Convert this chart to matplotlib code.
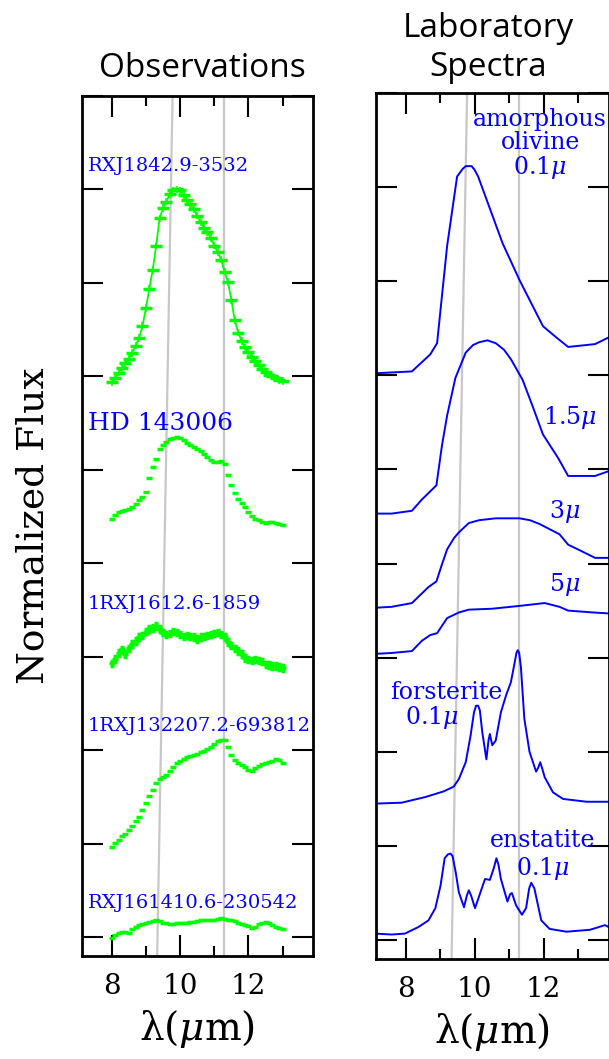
import numpy as np
import matplotlib
matplotlib.use('Agg')
import matplotlib.pyplot as plt
from matplotlib.ticker import MultipleLocator

plt.rcParams['mathtext.fontset'] = 'dejavuserif'

# ---- observations (normalized, offset) ----
wave_obs = np.round(np.arange(8.0, 13.05, 0.1), 1)

flux_rxj1842 = [5.94, 5.98, 6.04, 6.09, 6.14, 6.19, 6.25, 6.33, 6.41, 6.54,
                6.73, 6.94, 7.14, 7.40, 7.69, 7.80, 7.87, 7.95, 7.99, 8.00,
                7.99, 7.94, 7.89, 7.84, 7.79, 7.72, 7.65, 7.59, 7.54, 7.48,
                7.40, 7.33, 7.25, 7.12, 7.01, 6.82, 6.60, 6.47, 6.38, 6.31,
                6.26, 6.21, 6.16, 6.12, 6.08, 6.05, 6.02, 6.00, 5.98, 5.96, 5.95]
flux_hd143006 = [4.48, 4.52, 4.55, 4.56, 4.57, 4.58, 4.60, 4.64, 4.68, 4.71,
                 4.76, 4.91, 5.03, 5.12, 5.22, 5.27, 5.30, 5.33, 5.34, 5.35,
                 5.34, 5.32, 5.29, 5.27, 5.25, 5.22, 5.20, 5.17, 5.14, 5.11,
                 5.09, 5.09, 5.10, 5.06, 4.95, 4.84, 4.75, 4.69, 4.65, 4.60,
                 4.55, 4.51, 4.48, 4.46, 4.44, 4.43, 4.44, 4.44, 4.43, 4.42, 4.41]
flux_1rxj1612 = [2.93, 2.98, 3.04, 3.08, 3.03, 3.09, 3.14, 3.17, 3.21, 3.23,
                 3.27, 3.30, 3.31, 3.33, 3.30, 3.26, 3.24, 3.25, 3.27, 3.26,
                 3.24, 3.22, 3.23, 3.22, 3.21, 3.19, 3.21, 3.22, 3.23, 3.24,
                 3.25, 3.26, 3.24, 3.21, 3.16, 3.12, 3.09, 3.06, 3.03, 2.99,
                 2.97, 2.96, 2.97, 2.96, 2.95, 2.92, 2.91, 2.90, 2.90, 2.89, 2.88]
flux_1rxj1322 = [0.97, 1.01, 1.04, 1.08, 1.11, 1.15, 1.19, 1.24, 1.29, 1.36,
                 1.44, 1.51, 1.58, 1.65, 1.69, 1.71, 1.74, 1.78, 1.82, 1.86,
                 1.89, 1.91, 1.93, 1.94, 1.95, 1.96, 1.98, 1.99, 2.01, 2.04,
                 2.07, 2.10, 2.11, 2.11, 2.04, 1.95, 1.90, 1.87, 1.84, 1.82,
                 1.79, 1.78, 1.81, 1.83, 1.85, 1.87, 1.88, 1.89, 1.91, 1.90, 1.87]
flux_rxj1614 = [-0.01, 0.03, 0.05, 0.06, 0.06, 0.05, 0.09, 0.11, 0.13, 0.14,
                0.15, 0.16, 0.17, 0.18, 0.17, 0.15, 0.15, 0.14, 0.14, 0.15,
                0.15, 0.15, 0.15, 0.16, 0.16, 0.17, 0.18, 0.18, 0.19, 0.19,
                0.19, 0.20, 0.21, 0.20, 0.19, 0.18, 0.17, 0.15, 0.14, 0.13,
                0.12, 0.10, 0.11, 0.14, 0.15, 0.16, 0.15, 0.13, 0.11, 0.10, 0.09]

obs_names = ['RXJ1842.9-3532', 'HD 143006', '1RXJ1612.6-1859',
             '1RXJ132207.2-693812', 'RXJ161410.6-230542']
obs_flux = [flux_rxj1842, flux_hd143006, flux_1rxj1612, flux_1rxj1322, flux_rxj1614]
obs_err = [0.04, 0.0, 0.03, 0.0, 0.0]
obs_label_y = [8.25, 5.5, 3.57, 2.26, 0.37]

# ---- laboratory spectra ----
amo01_x = [7.1, 8.18, 8.71, 8.91, 9.20, 9.49, 9.65, 9.74, 9.91, 10.00, 10.10,
           10.42, 10.81, 11.30, 11.98, 12.37, 12.71, 13.49, 13.88]
amo01_y = [6.02, 6.04, 6.22, 6.34, 7.37, 8.11, 8.19, 8.22, 8.22, 8.18, 8.11,
           7.79, 7.40, 7.01, 6.52, 6.40, 6.30, 6.33, 6.40]
amo15_x = [7.1, 7.59, 8.18, 8.47, 8.89, 9.05, 9.20, 9.44, 9.74, 9.95, 10.13,
           10.37, 10.61, 10.85, 11.05, 11.39, 11.68, 11.98, 12.42, 12.71, 13.49, 13.88]
amo15_y = [4.53, 4.53, 4.56, 4.68, 4.83, 5.25, 5.57, 5.97, 6.24, 6.32, 6.35,
           6.37, 6.34, 6.27, 6.17, 5.95, 5.67, 5.37, 5.12, 4.93, 4.93, 4.98]
amo3_x = [7.1, 7.59, 8.18, 8.66, 8.89, 9.05, 9.20, 9.40, 9.54, 9.83, 10.13, 10.61,
          11.30, 11.60, 11.88, 12.46, 12.71, 13.05, 13.49, 13.88]
amo3_y = [3.53, 3.54, 3.58, 3.75, 3.81, 3.99, 4.15, 4.27, 4.33, 4.43, 4.46, 4.48,
          4.48, 4.46, 4.42, 4.31, 4.20, 4.14, 4.06, 4.06]
amo5_x = [7.1, 7.59, 8.18, 8.47, 8.71, 8.91, 9.20, 9.54, 9.83, 10.51, 11.30,
          12.03, 12.46, 12.71, 13.44, 13.88]
amo5_y = [3.04, 3.05, 3.07, 3.18, 3.24, 3.26, 3.42, 3.48, 3.51, 3.52, 3.55,
          3.58, 3.54, 3.50, 3.48, 3.47]
fors_x = [7.1, 7.88, 8.57, 9.10, 9.39, 9.54, 9.74, 9.88, 9.98, 10.04, 10.10,
          10.15, 10.22, 10.34, 10.40, 10.44, 10.51, 10.61, 10.76, 10.91, 11.05,
          11.15, 11.21, 11.25, 11.29, 11.34, 11.44, 11.59, 11.78, 11.84, 11.90,
          11.96, 12.03, 12.27, 12.56, 13.25, 13.88]
fors_y = [1.45, 1.46, 1.52, 1.58, 1.63, 1.71, 1.89, 2.17, 2.42, 2.49, 2.49,
          2.44, 2.21, 1.92, 2.12, 2.19, 2.07, 2.12, 2.42, 2.60, 2.74,
          2.93, 3.05, 3.08, 3.05, 2.90, 2.35, 2.00, 1.79, 1.83, 1.89,
          1.82, 1.73, 1.57, 1.50, 1.47, 1.47]
enst_x = [7.1, 7.59, 7.98, 8.37, 8.66, 8.86, 9.01, 9.13, 9.22, 9.30, 9.36,
          9.45, 9.54, 9.69, 9.77, 9.83, 9.90, 10.01, 10.15, 10.30, 10.44, 10.55,
          10.63, 10.69, 10.76, 10.95, 11.03, 11.08, 11.20, 11.37, 11.49, 11.58,
          11.64, 11.73, 11.93, 12.17, 12.66, 13.34, 13.78, 13.88]
enst_y = [0.07, 0.06, 0.07, 0.14, 0.21, 0.34, 0.58, 0.87, 0.91, 0.92, 0.89,
          0.72, 0.51, 0.35, 0.47, 0.53, 0.47, 0.34, 0.49, 0.65, 0.64, 0.76,
          0.87, 0.80, 0.65, 0.41, 0.49, 0.50, 0.37, 0.27, 0.34, 0.55,
          0.61, 0.55, 0.21, 0.12, 0.09, 0.11, 0.16, 0.14]

lab_x = [amo01_x, amo15_x, amo3_x, amo5_x, fors_x, enst_x]
lab_y = [amo01_y, amo15_y, amo3_y, amo5_y, fors_y, enst_y]

# slanted / vertical guide lines (wavelength at top, at bottom)
guide_a = (9.78, 9.33)
guide_b = (11.28, 11.28)

GREEN = '#00ff00'
BLUE = '#0000ff'
GRAY = '#c8c8c8'
XLIM = (7.13, 13.88)
YLIM = (-0.2, 9.0)

fig = plt.figure(figsize=(6.09, 10.59), dpi=100)
W, H = 609.0, 1059.0
ax_obs = fig.add_axes([82 / W, 1 - 956 / H, (312.7 - 82) / W, (956 - 96) / H])
ax_lab = fig.add_axes([375.7 / W, 1 - 959 / H, (608.5 - 375.7) / W, (959 - 92.7) / H])


def style_axis(ax):
    ax.set_xlim(*XLIM)
    ax.set_ylim(*YLIM)
    ax.xaxis.set_major_locator(MultipleLocator(2))
    ax.xaxis.set_minor_locator(MultipleLocator(1))
    ax.yaxis.set_major_locator(MultipleLocator(1))
    ax.tick_params(which='both', direction='in', top=True, right=True, width=1.5)
    ax.tick_params(which='major', length=15)
    ax.tick_params(which='minor', length=7.5)
    ax.tick_params(axis='x', labelsize=20, pad=12)
    ax.tick_params(axis='y', labelleft=False)
    for lab in ax.get_xticklabels():
        lab.set_family('DejaVu Serif')
    for sp in ax.spines.values():
        sp.set_linewidth(2)
    for g in (guide_a, guide_b):
        ax.plot([g[0], g[1]], [YLIM[1], YLIM[0]], color=GRAY, lw=1.6, zorder=0)
    ax.set_xlabel(r'λ($\mu$m)', family='DejaVu Serif', fontsize=28, labelpad=6)


style_axis(ax_obs)
style_axis(ax_lab)

# observations
for i, (name, flux) in enumerate(zip(obs_names, obs_flux)):
    ms = 8 if i == 0 else 5
    if i == 0:
        ax_obs.plot(wave_obs, flux, '-', color=GREEN, lw=1.3)
    ax_obs.errorbar(wave_obs, flux, yerr=obs_err[i] if obs_err[i] else None,
                    fmt='_', color=GREEN, ms=ms, mew=2.5, elinewidth=1.1,
                    capsize=1.5 if i == 2 else 0)
    size = 18 if name.startswith('HD') else 14
    ax_obs.text(7.3, obs_label_y[i], name, color=BLUE, fontsize=size,
                family='DejaVu Serif', ha='left', va='center')

ax_obs.set_ylabel('Normalized Flux', family='DejaVu Serif', fontsize=27, labelpad=22)

# laboratory
for xs, ys in zip(lab_x, lab_y):
    ax_lab.plot(xs, ys, '-', color=BLUE, lw=1.4, solid_joinstyle='round')

lab_kw = dict(color=BLUE, fontsize=17, family='DejaVu Serif', ha='center', va='center')
ax_lab.text(11.9, 8.45, 'amorphous\nolivine\n' + r'$0.1\mu$', linespacing=1.0, **lab_kw)
ax_lab.text(12.75, 5.55, r'$1.5\mu$', **lab_kw)
ax_lab.text(12.6, 4.55, r'$3\mu$', **lab_kw)
ax_lab.text(12.6, 3.78, r'$5\mu$', **lab_kw)
ax_lab.text(9.18, 2.63, 'forsterite', **lab_kw)
ax_lab.text(8.77, 2.36, r'$0.1\mu$', **lab_kw)
ax_lab.text(11.98, 1.06, 'enstatite', **lab_kw)
ax_lab.text(11.98, 0.76, r'$0.1\mu$', **lab_kw)

# titles
fig.text(202 / W, 1 - 77 / H, 'Observations', family='Open Sans', fontsize=24,
         ha='center', va='baseline')
fig.text(488 / W, 1 - 37 / H, 'Laboratory', family='Open Sans', fontsize=24,
         ha='center', va='baseline')
fig.text(488 / W, 1 - 76 / H, 'Spectra', family='Open Sans', fontsize=24,
         ha='center', va='baseline')

fig.savefig('out.png', dpi=100)
